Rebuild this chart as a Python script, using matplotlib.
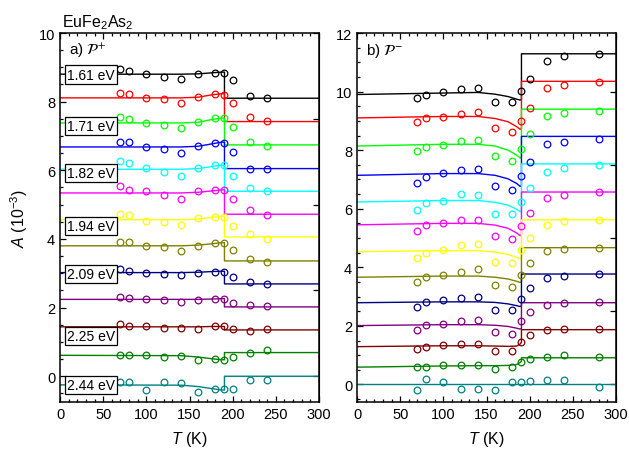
import matplotlib
matplotlib.use("Agg")
import matplotlib.pyplot as plt
from matplotlib.ticker import MultipleLocator

plt.rcParams["font.family"] = ["Liberation Sans", "DejaVu Sans"]
plt.rcParams["mathtext.fontset"] = "custom"
plt.rcParams["mathtext.rm"] = "Liberation Sans"
plt.rcParams["mathtext.it"] = "Liberation Sans:italic"
plt.rcParams["mathtext.bf"] = "Liberation Sans:bold"

# -----------------------------
# data
# -----------------------------
colors = ["#000000", "#FF0000", "#00FF00", "#0000FF", "#00FFFF", "#FF00FF", "#FFFF00",
          "#808000", "#000080", "#800080", "#800000", "#008000", "#008080"]

energies = ["1.61 eV", "1.71 eV", "1.82 eV", "1.94 eV", "2.09 eV", "2.25 eV", "2.44 eV"]
energy_y = [8.79, 7.28, 5.92, 4.38, 2.97, 1.17, -0.25]

# panel a) P+
T_a = [70, 80, 100, 120, 140, 160, 180, 190, 200, 220, 240]
pts_a = [
    [8.94, 8.90, 8.80, 8.73, 8.65, 8.80, 8.84, 8.84, 8.62, 8.17, 8.11],
    [8.26, 8.21, 8.10, 8.07, 7.95, 8.15, 8.21, 8.20, 7.95, 7.54, 7.43],
    [7.55, 7.49, 7.38, 7.33, 7.23, 7.40, 7.51, 7.51, 7.27, 6.83, 6.71],
    [6.82, 6.82, 6.69, 6.62, 6.49, 6.70, 6.80, 6.80, 6.54, 6.03, 6.04],
    [6.27, 6.20, 6.06, 5.96, 5.84, 6.07, 6.16, 6.16, 5.82, 5.48, 5.41],
    [5.55, 5.43, 5.39, 5.27, 5.15, 5.39, 5.42, 5.43, 5.16, 4.85, 4.70],
    [4.74, 4.71, 4.53, 4.50, 4.42, 4.61, 4.64, 4.64, 4.39, 4.13, 4.01],
    [3.92, 3.91, 3.79, 3.76, 3.64, 3.80, 3.88, 3.88, 3.67, 3.43, 3.34],
    [3.13, 3.08, 3.02, 2.98, 2.94, 3.02, 3.05, 3.05, 2.88, 2.75, 2.68],
    [2.32, 2.29, 2.24, 2.22, 2.16, 2.22, 2.25, 2.25, 2.14, 2.07, 2.05],
    [1.52, 1.45, 1.45, 1.41, 1.42, 1.37, 1.45, 1.45, 1.38, 1.33, 1.37],
    [0.63, 0.63, 0.61, 0.57, 0.60, 0.48, 0.49, 0.48, 0.56, 0.67, 0.77],
    [-0.17, -0.17, -0.39, -0.17, -0.21, -0.45, -0.36, -0.38, -0.38, -0.10, -0.10],
]
fitT_a = [0, 140, 160, 176, 187, 190.5]
fit_a = [
    [8.80, 8.80, 8.81, 8.84, 8.86, 8.86],
    [8.11, 8.11, 8.13, 8.20, 8.23, 8.23],
    [7.38, 7.38, 7.40, 7.48, 7.52, 7.52],
    [6.68, 6.68, 6.70, 6.77, 6.82, 6.82],
    [6.03, 6.03, 6.05, 6.11, 6.15, 6.15],
    [5.34, 5.34, 5.36, 5.40, 5.43, 5.43],
    [4.56, 4.56, 4.58, 4.63, 4.66, 4.66],
    [3.80, 3.80, 3.82, 3.86, 3.89, 3.89],
    [3.02, 3.02, 3.03, 3.05, 3.06, 3.06],
    [2.24, 2.24, 2.24, 2.25, 2.26, 2.26],
    [1.44, 1.44, 1.44, 1.45, 1.45, 1.45],
    [0.61, 0.60, 0.56, 0.51, 0.48, 0.48],
    [-0.25, -0.26, -0.30, -0.36, -0.40, -0.40],
]
high_a = [8.10, 7.42, 6.74, 6.05, 5.39, 4.72, 4.06, 3.36, 2.69, 2.02, 1.35, 0.69, 0.00]

# panel b) P-
T_b = [70, 80, 100, 120, 140, 160, 180, 190, 200, 220, 240, 280]
pts_b = [
    [9.77, 9.90, 9.97, 10.09, 10.11, 9.63, 9.63, 10.01, 10.44, 11.05, 11.22, 11.27],
    [8.96, 9.09, 9.14, 9.24, 9.31, 8.75, 8.62, 8.98, 9.45, 10.11, 10.21, 10.31],
    [7.98, 8.12, 8.19, 8.32, 8.36, 7.79, 7.64, 8.05, 8.54, 9.17, 9.28, 9.34],
    [6.89, 7.10, 7.22, 7.32, 7.37, 6.79, 6.64, 7.11, 7.61, 8.22, 8.29, 8.37],
    [5.95, 6.20, 6.27, 6.50, 6.47, 5.82, 5.82, 6.23, 6.72, 7.27, 7.39, 7.49],
    [5.24, 5.43, 5.51, 5.61, 5.61, 5.07, 4.96, 5.40, 5.84, 6.37, 6.47, 6.56],
    [4.32, 4.50, 4.59, 4.75, 4.80, 4.19, 4.14, 4.59, 5.00, 5.44, 5.57, 5.61],
    [3.50, 3.66, 3.72, 3.83, 3.94, 3.40, 3.33, 3.72, 4.14, 4.57, 4.63, 4.66],
    [2.65, 2.80, 2.88, 2.96, 2.99, 2.54, 2.55, 2.93, 3.30, 3.63, 3.70, 3.77],
    [1.87, 2.02, 2.07, 2.15, 2.20, 1.79, 1.73, 2.15, 2.49, 2.72, 2.78, 2.80],
    [1.20, 1.29, 1.33, 1.39, 1.39, 1.15, 1.15, 1.44, 1.69, 1.85, 1.89, 1.90],
    [0.59, 0.59, 0.66, 0.65, 0.66, 0.54, 0.58, 0.75, 0.88, 0.92, 0.99, 0.95],
    [-0.18, 0.20, 0.09, -0.15, -0.17, -0.20, 0.07, 0.08, 0.11, 0.16, 0.16, -0.10],
]
fitT_b = [0, 100, 140, 160, 175, 185, 189, 190.5]
fit_b = [
    [9.90, 9.95, 9.97, 9.91, 9.83, 9.74, 9.71, 9.73],
    [9.10, 9.15, 9.15, 9.08, 8.97, 8.80, 8.71, 8.74],
    [8.14, 8.20, 8.20, 8.14, 8.00, 7.83, 7.73, 7.76],
    [7.14, 7.20, 7.20, 7.14, 7.02, 6.86, 6.76, 6.79],
    [6.23, 6.28, 6.28, 6.22, 6.12, 5.98, 5.90, 5.93],
    [5.45, 5.50, 5.50, 5.44, 5.33, 5.17, 5.08, 5.11],
    [4.53, 4.57, 4.57, 4.52, 4.44, 4.34, 4.29, 4.32],
    [3.66, 3.70, 3.70, 3.66, 3.60, 3.52, 3.48, 3.51],
    [2.79, 2.82, 2.82, 2.80, 2.75, 2.69, 2.66, 2.69],
    [2.01, 2.04, 2.04, 2.02, 1.98, 1.92, 1.89, 1.92],
    [1.29, 1.32, 1.32, 1.31, 1.30, 1.31, 1.38, 1.44],
    [0.59, 0.63, 0.64, 0.64, 0.65, 0.68, 0.75, 0.80],
    [0.00, 0.00, 0.00, 0.00, 0.00, 0.00, 0.00, 0.00],
]
high_b = [11.29, 10.35, 9.40, 8.47, 7.53, 6.57, 5.62, 4.67, 3.77, 2.79, 1.87, 0.91, 0.00]


# -----------------------------
# plotting
# -----------------------------
def draw_panel(ax, T, pts, fitT, fit, high, ylim, label):
    for c, p, f, h in zip(colors, pts, fit, high):
        x = fitT + [fitT[-1], 300]
        y = f + [h, h]
        ax.plot(x, y, color=c, lw=1.0, zorder=2)
        ax.plot(T, p, "o", mfc="none", mec=c, ms=4.8, mew=0.9, zorder=3)

    ax.set_xlim(0, 300)
    ax.set_ylim(*ylim)
    ax.xaxis.set_major_locator(MultipleLocator(50))
    ax.xaxis.set_minor_locator(MultipleLocator(10))
    ax.yaxis.set_major_locator(MultipleLocator(2))
    ax.yaxis.set_minor_locator(MultipleLocator(0.5))
    ax.tick_params(which="both", direction="in", top=True, right=False, labelsize=10.5, width=0.9)
    ax.tick_params(which="major", length=4)
    ax.tick_params(which="minor", length=2.5)
    for s in ax.spines.values():
        s.set_linewidth(1.1)

    sec = ax.secondary_yaxis("right")
    sec.yaxis.set_major_locator(MultipleLocator(2.5))
    sec.tick_params(direction="in", length=4, width=0.9, labelright=False)

    ax.set_xlabel("$T$ (K)", fontsize=11.5, labelpad=6)
    ax.text(10, ylim[1] - 0.045 * (ylim[1] - ylim[0]), label, fontsize=11,
            va="center", ha="left", math_fontfamily="stix")


fig = plt.figure(figsize=(6.29, 4.52), dpi=100)
ax1 = fig.add_axes([60 / 629, 1 - 403 / 452, 259 / 629, 369 / 452])
ax2 = fig.add_axes([357 / 629, 1 - 403 / 452, 259 / 629, 369 / 452])

draw_panel(ax1, T_a, pts_a, fitT_a, fit_a, high_a, (-0.75, 10), r"a) $\mathcal{P}^{+}$")
draw_panel(ax2, T_b, pts_b, fitT_b, fit_b, high_b, (-0.6, 12), r"b) $\mathcal{P}^{-}$")

for e, y in zip(energies, energy_y):
    ax1.text(36, y, e, fontsize=10, ha="center", va="center", zorder=5,
             bbox=dict(boxstyle="square,pad=0.15", fc="white", ec="black", lw=0.9))

ax1.set_ylabel("$A$ (10$^{-3}$)", fontsize=11.5, labelpad=6)
fig.text(62 / 629, 1 - 27 / 452, "EuFe$_2$As$_2$", fontsize=11.5, va="baseline", ha="left")

fig.savefig("out.png", dpi=100)
